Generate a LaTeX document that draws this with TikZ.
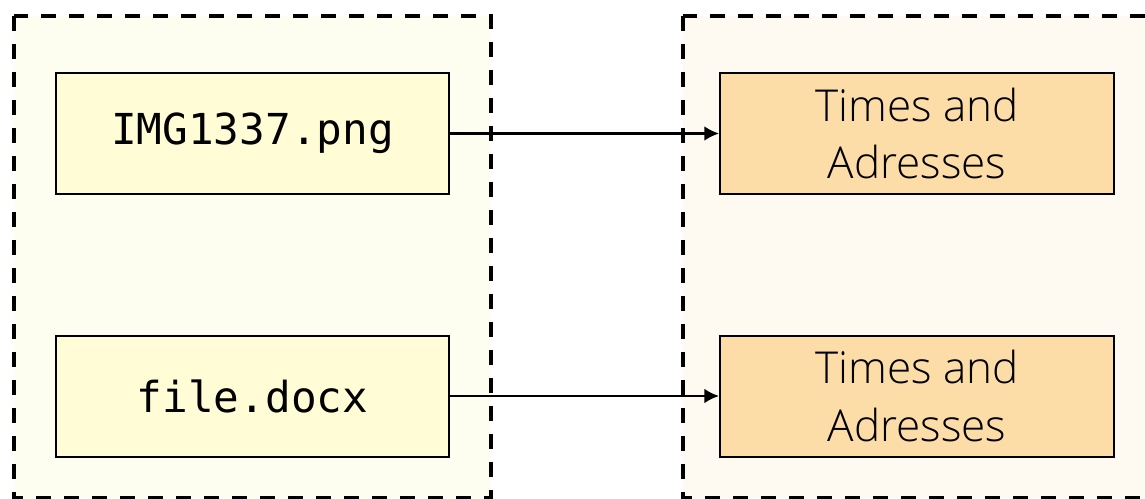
\documentclass[tikz,border=0pt]{standalone}
\usepackage{fontspec}
\setmonofont{DejaVu Sans Mono}
\newfontfamily\labelfont{Open Sans Light}
\usetikzlibrary{arrows.meta}
\definecolor{srcbg}{HTML}{FDFEEF}
\definecolor{dstbg}{HTML}{FEFAF1}
\definecolor{srcfill}{HTML}{FFFCD6}
\definecolor{dstfill}{HTML}{FCDCA7}
\tikzset{
  group/.style={draw=black, line width=3pt, dash pattern=on 11pt off 10pt},
  filebox/.style={draw=black, line width=1.5pt, fill=srcfill, minimum width=393*0.75pt, minimum height=121*0.75pt, inner sep=0pt, font=\ttfamily\fontsize{32}{38}\selectfont},
  infobox/.style={draw=black, line width=1.5pt, fill=dstfill, minimum width=394*0.75pt, minimum height=121*0.75pt, inner sep=0pt, align=center, font=\labelfont\fontsize{33}{43}\selectfont},
  link/.style={draw=black, line width=1.6pt, -{Latex[length=11pt,width=11pt]}}
}
\begin{document}
\begin{tikzpicture}[x=0.75pt, y=-0.75pt]
\useasboundingbox (0,0) rectangle (1145,499);
\begin{scope}
\clip (0,0) rectangle (1145,499);
% source and destination groups
\draw[group, fill=srcbg] (14,16) rectangle (491,498);
\draw[group, fill=dstbg] (683,16) rectangle (1160,498);
\end{scope}
% files
\node[filebox] (img) at (252.5,133.5) {IMG1337.png};
\node[filebox] (doc) at (252.5,396) {file.docx};
% extracted information
\node[infobox] (t1) at (917,133.5) {Times and\\Adresses};
\node[infobox] (t2) at (917,396) {Times and\\Adresses};
\draw[link] (img) -- (t1);
\draw[link] (doc) -- (t2);
\end{tikzpicture}
\end{document}
